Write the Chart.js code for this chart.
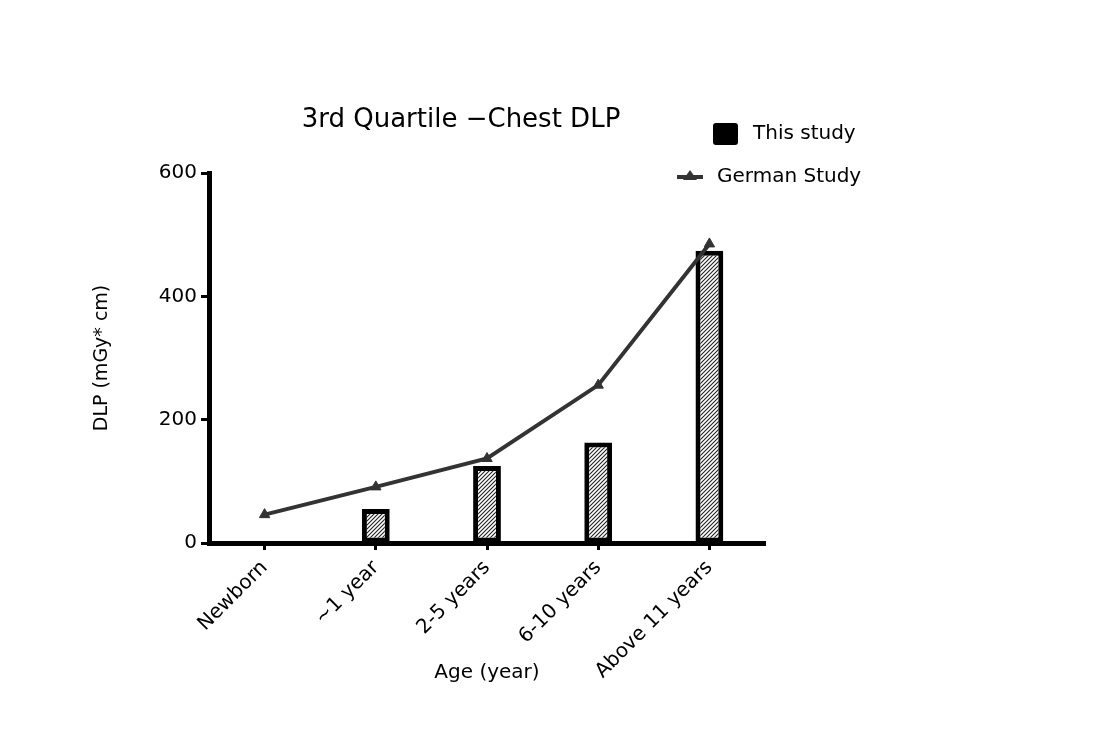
<!DOCTYPE html>
<html>
<head>
<meta charset="utf-8">
<script src="https://cdn.jsdelivr.net/npm/chart.js@4/dist/chart.umd.min.js"></script>
<style>
  body { margin: 0; background: #fff; }
  #wrap { width: 1096px; height: 745px; }
</style>
</head>
<body>
<div id="wrap"><canvas id="chart" width="1096" height="745"></canvas></div>
<script>
// values
var ageGroups = ['Newborn', '~1 year', '2-5 years', '6-10 years', 'Above 11 years'];
var thisStudy = [null, 55, 125, 163, 474];
var germanStudy = [46, 91, 137, 256, 485];
var yTicks = [0, 200, 400, 600];

var FONT = '"DejaVu Sans", sans-serif';

// diagonal hatch for the bars
function makeHatch() {
  var c = document.createElement('canvas');
  c.width = 4;
  c.height = 4;
  var g = c.getContext('2d');
  g.fillStyle = '#fff';
  g.fillRect(0, 0, 4, 4);
  g.strokeStyle = '#222';
  g.lineWidth = 1.1;
  g.beginPath();
  g.moveTo(0, 4); g.lineTo(4, 0);
  g.moveTo(-1, 1); g.lineTo(1, -1);
  g.moveTo(3, 5); g.lineTo(5, 3);
  g.stroke();
  return g.createPattern(c, 'repeat');
}

// title + legend placed like the original figure
var extras = {
  id: 'extras',
  afterDraw: function(chart) {
    var ctx = chart.ctx;
    var a = chart.chartArea;
    ctx.save();
    ctx.fillStyle = '#000';
    ctx.textBaseline = 'middle';
    ctx.textAlign = 'center';
    ctx.font = '26px ' + FONT;
    ctx.fillText('3rd Quartile \u2212Chest DLP', a.left + 252, a.top - 53);

    ctx.textAlign = 'left';
    ctx.font = '20px ' + FONT;
    var ds = chart.data.datasets;
    // bar item
    var bx = a.right - 52, by = a.top - 50;
    ctx.beginPath();
    ctx.roundRect(bx, by, 25, 22, 3);
    ctx.fillStyle = '#000';
    ctx.fill();
    ctx.fillText(ds[0].label, bx + 40, by + 11);
    // line item
    var lx = a.right - 88, ly = a.top + 4;
    ctx.strokeStyle = '#333';
    ctx.lineWidth = 4;
    ctx.beginPath();
    ctx.moveTo(lx, ly);
    ctx.lineTo(lx + 26, ly);
    ctx.stroke();
    ctx.fillStyle = '#333';
    ctx.beginPath();
    ctx.moveTo(lx + 13, ly - 7);
    ctx.lineTo(lx + 20, ly + 3);
    ctx.lineTo(lx + 6, ly + 3);
    ctx.closePath();
    ctx.fill();
    ctx.fillStyle = '#000';
    ctx.fillText(ds[1].label, lx + 40, ly);
    ctx.restore();
  }
};

new Chart(document.getElementById('chart'), {
  type: 'bar',
  data: {
    labels: ageGroups,
    datasets: [
      {
        type: 'bar',
        label: 'This study',
        data: thisStudy,
        backgroundColor: makeHatch(),
        borderColor: '#000',
        borderWidth: 5,
        borderSkipped: false,
        barPercentage: 0.25,
        categoryPercentage: 1,
        order: 1
      },
      {
        type: 'line',
        label: 'German Study',
        data: germanStudy,
        borderColor: '#333',
        backgroundColor: '#333',
        borderWidth: 4,
        pointStyle: 'triangle',
        pointRadius: 6,
        pointBorderWidth: 1,
        tension: 0,
        order: 0
      }
    ]
  },
  options: {
    responsive: false,
    animation: false,
    layout: { padding: { left: 0, top: 173, right: 331, bottom: 0 } },
    plugins: {
      legend: { display: false },
      title: { display: false },
      tooltip: { enabled: false }
    },
    scales: {
      x: {
        offset: true,
        afterFit: function(s) { s.height = 202; },
        grid: {
          offset: false,
          drawOnChartArea: false,
          color: '#000',
          tickLength: 7,
          tickWidth: 3
        },
        border: { color: '#000', width: 5 },
        ticks: {
          color: '#000',
          font: { family: FONT, size: 20 },
          minRotation: 45,
          maxRotation: 45,
          padding: 6
        },
        title: {
          display: true,
          text: 'Age (year)',
          color: '#000',
          font: { family: FONT, size: 20 },
          padding: { top: 0, bottom: 60 }
        }
      },
      y: {
        min: 0,
        max: 600,
        afterFit: function(s) { s.width = 209; },
        afterBuildTicks: function(s) {
          s.ticks = yTicks.map(function(v) { return { value: v }; });
        },
        grid: {
          drawOnChartArea: false,
          color: '#000',
          tickLength: 8,
          tickWidth: 3
        },
        border: { color: '#000', width: 5 },
        ticks: {
          color: '#000',
          font: { family: FONT, size: 20 },
          padding: 4
        },
        title: {
          display: true,
          text: 'DLP (mGy* cm)',
          color: '#000',
          font: { family: FONT, size: 19 },
          padding: { top: 91, bottom: 0 }
        }
      }
    }
  },
  plugins: [extras]
});
</script>
</body>
</html>
